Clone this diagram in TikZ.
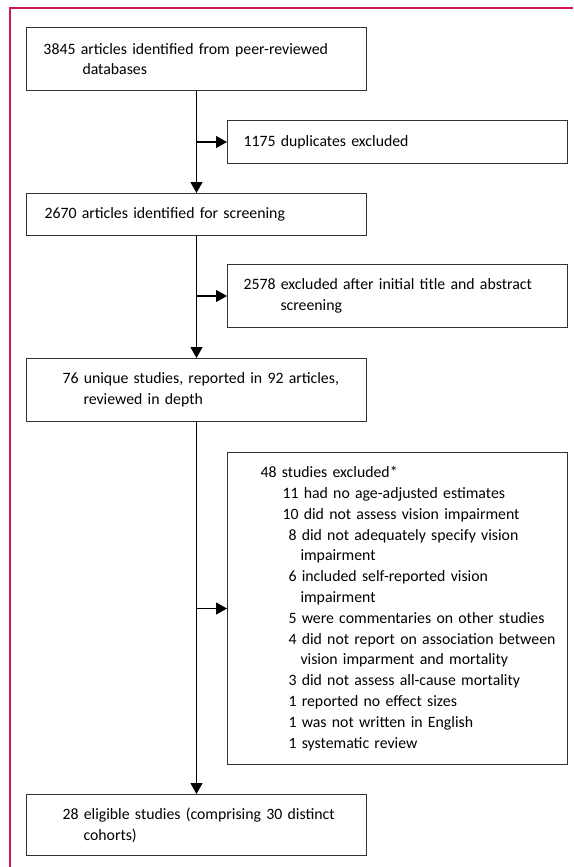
\documentclass[tikz,border=0pt]{standalone}
\usepackage{fontspec}
\setmainfont{Carlito}
\usetikzlibrary{arrows.meta}
\definecolor{lancetrot}{RGB}{208,22,88}
\def\einzug#1{\hspace*{#1pt}}
\def\abzweig#1{\draw[->] (B1.south |- #1.west) -- (#1.west);}

\begin{document}
\begin{tikzpicture}[x=1pt,y=-1pt,>={Triangle[length=11pt,width=12pt]},line width=1.2pt,
  kasten/.style={draw=black!80,line width=1pt,anchor=north west,align=left,
    inner xsep=0pt,inner ysep=0pt,text width=340pt,minimum width=340pt,
    font=\fontsize{15.8}{20.8}\selectfont}]
\useasboundingbox (0,0) rectangle (573,867);
\draw[lancetrot,line width=1.3pt] (10,867) -- (10,8) -- (573,8);
\coordinate (P1) at (26,27);
\coordinate (P2) at (227,120);
\coordinate (P3) at (26,193);
\coordinate (P4) at (227,264);
\coordinate (P5) at (26,358);
\coordinate (P6) at (227,452);
\coordinate (P7) at (26,794);
\node[kasten,minimum height=63pt] (B1) at (P1) {\einzug{17}3845 articles identified from peer-reviewed\\\einzug{56}databases};
\node[kasten,minimum height=43pt] (B2) at (P2) {\einzug{16}1175 duplicates excluded};
\node[kasten,minimum height=42pt] (B3) at (P3) {\einzug{18}2670 articles identified for screening};
\node[kasten,minimum height=63pt] (B4) at (P4) {\einzug{16}2578 excluded after initial title and abstract\\\einzug{53}screening};
\node[kasten,minimum height=63pt] (B5) at (P5) {\einzug{36}76 unique studies, reported in 92 articles,\\\einzug{57}reviewed in depth};
\node[kasten,minimum height=312pt] (B6) at (P6) {\einzug{33}48 studies excluded*\\
\einzug{55}11 had no age-adjusted estimates\\
\einzug{55}10 did not assess vision impairment\\
\einzug{61}8 did not adequately specify vision\\
\einzug{73}impairment\\
\einzug{61}6 included self-reported vision\\
\einzug{73}impairment\\
\einzug{61}5 were commentaries on other studies\\
\einzug{61}4 did not report on association between\\
\einzug{73}vision imparment and mortality\\
\einzug{61}3 did not assess all-cause mortality\\
\einzug{61}1 reported no effect sizes\\
\einzug{61}1 was not written in English\\
\einzug{61}1 systematic review};
\node[kasten,minimum height=61pt] (B7) at (P7) {\einzug{36}28 eligible studies (comprising 30 distinct\\\einzug{57}cohorts)};
\draw[->] (B1) -- (B3);
\draw[->] (B3) -- (B5);
\draw[->] (B5) -- (B7);
\abzweig{B2}
\abzweig{B4}
\abzweig{B6}
\end{tikzpicture}
\end{document}
